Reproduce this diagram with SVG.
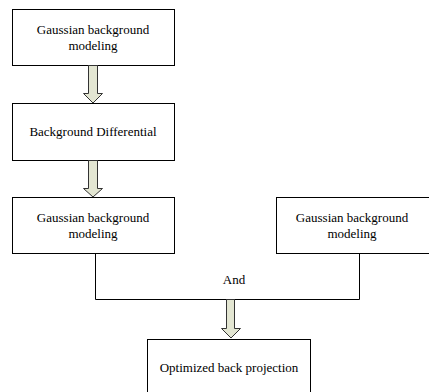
<svg xmlns="http://www.w3.org/2000/svg" width="429" height="392" viewBox="0 0 429 392">
<style>
.box{fill:#fff;stroke:#000;stroke-width:1}
.t{font-family:"Liberation Serif","Times New Roman",serif;font-size:13px;fill:#000;text-anchor:middle}
.arr{fill:#e3e6d2;stroke:#333;stroke-width:1}
.ln{fill:none;stroke:#000;stroke-width:1}
</style>
<rect width="429" height="392" fill="#fff"/>
<g id="n1"><rect class="box" x="12.5" y="9.5" width="162" height="56"/>
<text class="t" x="93" y="34">Gaussian background</text><text class="t" x="93" y="50">modeling</text></g>
<g id="n2"><rect class="box" x="12.5" y="103.5" width="162" height="57"/>
<text class="t" x="93" y="136">Background Differential</text></g>
<g id="n3"><rect class="box" x="12.5" y="197.5" width="162" height="56"/>
<text class="t" x="93" y="222">Gaussian background</text><text class="t" x="93" y="238">modeling</text></g>
<g id="n4"><rect class="box" x="276.5" y="197.5" width="155" height="56"/>
<text class="t" x="352" y="222">Gaussian background</text><text class="t" x="352" y="238">modeling</text></g>
<g id="n5"><rect class="box" x="147.5" y="339.5" width="163" height="60"/>
<text class="t" x="229" y="372">Optimized back projection</text></g>
<g id="connectors">
<path class="arr" d="M88.5,65.5 H97.5 V93.5 H102.5 L93,103 L83.5,93.5 H88.5 Z"/>
<path class="arr" d="M88.5,160.5 H97.5 V188.5 H102.5 L93,197 L83.5,188.5 H88.5 Z"/>
<path class="ln" d="M95.5,254 V299.5 H359.5 V254"/>
<text class="t" x="234" y="284">And</text>
<path class="arr" d="M226.5,299.5 H234.5 V328.5 H240.5 L231,338 L221.5,328.5 H226.5 Z"/>
</g>
</svg>
